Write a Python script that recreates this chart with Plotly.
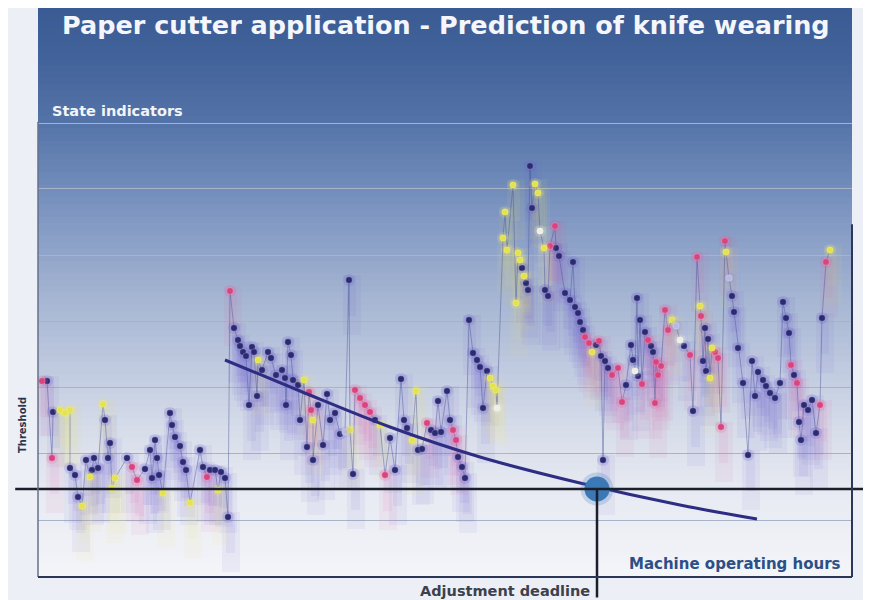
import plotly.graph_objects as go

# ---------------- data ----------------
hours = [0.4, 0.9, 1.4, 1.5, 2.2, 2.7, 3.2, 3.2, 3.7, 4.0, 4.4, 4.8, 5.2, 5.4, 5.6, 6.0, 6.5, 6.7, 7.0, 7.2,
         7.4, 7.7, 8.9, 9.4, 9.9, 10.7, 11.2, 11.4, 11.7, 11.9, 12.1, 12.5, 13.2, 13.4, 13.7, 14.2, 14.5, 14.8, 15.2, 16.2,
         16.5, 16.9, 17.2, 17.7, 18.0, 18.3, 18.7, 19.0, 19.2,
         19.6, 20.0, 20.2, 20.5, 20.8, 21.1, 21.4, 21.6, 21.9, 22.0, 22.4, 23.0, 23.3, 23.8, 24.4, 24.7, 24.8, 25.0, 25.3,
         25.5, 26.0, 26.2, 26.6, 26.9, 27.1, 27.3, 27.5, 27.5, 28.0, 28.5, 28.9, 29.2, 29.7, 30.2, 30.7, 31.1, 31.2, 31.5,
         31.7, 32.2, 32.7, 33.2, 33.7, 34.2, 34.7, 35.2, 35.7, 36.3, 36.6, 36.9, 37.4, 37.8, 38.0, 38.4, 38.9, 39.3, 39.7,
         40.0, 40.3, 40.9, 41.2, 41.5, 41.8, 42.0, 42.4, 42.7, 43.1,
         43.5, 43.9, 44.2, 44.5, 44.9, 45.2, 45.5, 45.8, 45.9, 46.5, 46.7, 46.9, 47.5, 47.8, 48.0, 48.2, 48.4, 48.6, 48.8,
         49.0, 49.2, 49.4, 49.7, 50.0, 50.2, 50.6, 50.7, 51.0, 51.2, 51.7, 51.8, 52.1, 52.7, 53.2, 53.5, 53.7, 54.0, 54.2,
         54.5, 54.7, 55.1, 55.4, 55.8, 56.1, 56.3, 56.5, 56.7, 57.0,
         57.4, 58.0, 58.4, 58.8, 59.3, 59.5, 59.7, 59.9, 60.0, 60.2, 60.4, 60.7, 61.0, 61.3, 61.5, 61.7, 61.8, 62.0, 62.3,
         62.7, 63.0, 63.4, 63.8, 64.2, 64.6, 65.2, 65.5, 65.9, 66.2, 66.3, 66.5, 66.7, 66.8, 67.0, 67.2, 67.4, 67.7, 68.0,
         68.3, 68.7, 68.8, 69.1, 69.4, 69.6, 70.0, 70.5, 71.0, 71.4, 71.7, 72.0, 72.5, 72.8, 73.2, 73.7, 74.2, 74.5, 74.8,
         75.1, 75.3, 75.6, 75.9, 76.1, 76.3, 76.6, 77.0, 77.4, 77.8, 78.2, 78.4, 78.8, 79.2, 79.5, 79.8, 80.0, 80.2, 80.5,
         80.3]
state = [19.6, 19.6, 11.9, 16.5, 16.7, 16.4, 16.7, 10.9, 10.2, 8.0, 7.1, 11.7, 10.0, 10.7, 11.9, 10.9, 17.3, 15.7, 11.9, 13.4,
         8.9, 9.9, 11.9, 11.0, 9.7, 10.8, 12.7, 9.9, 13.7, 11.9, 10.2, 8.4, 16.4, 15.2, 14.0, 13.1, 11.5, 10.7, 7.4, 12.7,
         11.0, 10.0, 10.7, 10.7, 8.7, 10.5, 9.9, 6.0, 28.6,
         24.9, 23.7, 23.1, 22.5, 22.1, 17.2, 23.0, 22.5, 18.1, 21.7, 20.7, 22.5, 21.9, 20.2, 20.7, 19.9, 17.2, 23.5, 22.2,
         19.7, 19.2, 15.7, 19.7, 13.0, 18.5, 16.7, 15.7, 11.7, 17.2, 13.2, 18.3, 15.7, 16.4, 14.3, 14.5, 29.7, 14.7, 10.3,
         18.7, 17.9, 17.2, 16.5, 15.7, 15.2, 10.2, 13.9, 10.7, 19.8, 15.7, 14.9, 13.7, 18.6, 12.7, 12.8, 15.4, 14.7, 14.4,
         17.6, 14.5, 18.6, 15.7, 14.7, 13.7, 12.0, 11.0, 9.9, 25.7,
         22.4, 21.7, 21.0, 16.9, 20.6, 19.9, 19.1, 18.7, 16.9, 33.9, 36.5, 32.7, 39.2, 27.4, 32.4, 31.7, 30.9, 30.1, 29.4,
         28.7, 41.1, 36.9, 39.3, 38.4, 34.6, 32.9, 28.7, 28.1, 33.1, 35.1, 32.9, 32.1, 28.4, 27.7, 31.5, 27.0, 26.4, 25.5,
         24.7, 24.0, 23.4, 22.5, 23.2, 23.6, 22.1, 11.7, 21.6, 20.9,
         20.2, 20.9, 17.5, 19.2, 23.2, 21.7, 20.6, 27.9, 20.1, 25.7, 19.3, 24.5, 23.7, 23.1, 22.5, 17.4, 21.5, 20.2, 21.1,
         26.7, 24.7, 25.7, 25.1, 23.7, 23.1, 22.2, 16.6, 32.0, 27.1, 26.1, 21.6, 24.9, 20.6, 23.8, 19.9, 22.9, 22.5, 21.9,
         15.0, 33.6, 32.5, 29.9, 28.1, 26.5, 22.9, 19.4, 12.2, 21.6, 18.1, 20.5, 19.7, 19.1, 18.4, 17.9, 19.4, 27.5, 25.9,
         24.4, 21.2, 20.2, 19.4, 15.5, 13.7, 17.2, 16.7, 17.7, 14.4, 17.2, 25.9, 31.5, 32.7, 33.9, 33.4, 31.5, 25.9, 28.2,
         16.9]
# indicator class of each measurement: n = navy, p = pink, y = yellow, w = white, l = pale
klass = list("pnpnyyynnnynynnnynnnyynppnnnnnnynnnnnnynnpnnynnnp"[:49]) + \
        list("nnnnnnnnnynnnnnnnnnnnnynppynnnnnnnlnynppppnypnnnnnyynnpnnnnnnpp"[:67]) + \
        list("nnnnnnnnnyyywyyyyyyynynnnnyywynnppnnnnnnnnnppyn"[:47]) + \
        list("pnnnnpppnnnwnnnpnpnnppppppyl" + "wnpnpypnnnnyyppppylnnnnnnnnnnnnnnnnpnpnnnnnnpnpy")

trend_hours = [18.7, 26.2, 35.2, 44.2, 54.2, 64.2, 71.9]
trend_state = [21.7, 18.6, 15.0, 12.0, 9.4, 7.2, 5.8]

threshold = 8.8
deadline_hours = 55.9

grid_levels = [5.7, 12.4, 19.0, 25.6, 32.2, 38.9, 45.4]

X_RANGE = [0, 81.4]
Y_RANGE = [0, 56.9]

# ---------------- styles ----------------
dot_color = {"n": "#2b2a72", "p": "#d9437e", "y": "#e4e34c", "w": "#eef0e4", "l": "#b9b9de"}
haze_rgb = {"n": (105, 95, 210), "p": (225, 95, 165), "y": (235, 232, 110), "w": (240, 240, 230),
            "l": (150, 150, 220)}


def rgba(k, a):
    r, g, b = haze_rgb[k]
    return "rgba(%d,%d,%d,%.3f)" % (r, g, b, a)


n = min(len(hours), len(state), len(klass))
hours, state, klass = hours[:n], state[:n], klass[:n]
kinds = ["n", "p", "y", "w", "l"]

fig = go.Figure()

# blurred shadow streaks below each measurement (two soft layers)
for k in kinds:
    xs = [h for h, c in zip(hours, klass) if c == k]
    ys = [s for s, c in zip(state, klass) if c == k]
    if not xs:
        continue
    fig.add_trace(go.Bar(x=[h + 0.3 for h in xs], y=[6.0] * len(xs), base=[v - 5.5 for v in ys], width=1.8,
                         marker=dict(color=rgba(k, 0.065), line=dict(width=0)),
                         hoverinfo="skip", showlegend=False))
    fig.add_trace(go.Bar(x=[h + 0.2 for h in xs], y=[4.0] * len(xs), base=[v - 3.6 for v in ys], width=0.9,
                         marker=dict(color=rgba(k, 0.08), line=dict(width=0)),
                         hoverinfo="skip", showlegend=False))

# thin connecting lines
fig.add_trace(go.Scatter(x=hours, y=state, mode="lines",
                         line=dict(color="rgba(70,80,150,0.55)", width=0.8),
                         hoverinfo="skip", showlegend=False))

# glow + dots
for k in kinds:
    xs = [h for h, c in zip(hours, klass) if c == k]
    ys = [s for s, c in zip(state, klass) if c == k]
    if not xs:
        continue
    fig.add_trace(go.Scatter(x=xs, y=ys, mode="markers",
                             marker=dict(size=12, color=rgba(k, 0.2), line=dict(width=0)),
                             hoverinfo="skip", showlegend=False))
    fig.add_trace(go.Scatter(x=xs, y=ys, mode="markers",
                             marker=dict(size=6.5, color=dot_color[k],
                                         line=dict(width=0.6, color="rgba(255,255,255,0.35)")),
                             showlegend=False))

# wear trend
fig.add_trace(go.Scatter(x=trend_hours, y=trend_state, mode="lines",
                         line=dict(color="#2e2d84", width=3, shape="spline"),
                         showlegend=False))

# deadline circle
fig.add_trace(go.Scatter(x=[deadline_hours], y=[threshold], mode="markers",
                         marker=dict(size=33, color="rgba(60,120,185,0.22)", line=dict(width=0)),
                         showlegend=False, hoverinfo="skip"))
fig.add_trace(go.Scatter(x=[deadline_hours], y=[threshold], mode="markers",
                         marker=dict(size=25, color="#3b78b6", line=dict(width=0)),
                         showlegend=False))

# ---------------- background gradient ----------------
stops = [(1.00, (58, 90, 147)), (0.90, (68, 100, 156)), (0.80, (84, 115, 168)),
         (0.66, (120, 146, 191)), (0.52, (158, 175, 207)), (0.38, (189, 200, 222)),
         (0.26, (214, 220, 233)), (0.15, (231, 234, 242)), (0.0, (244, 245, 249))]


def col_at(t):
    for (t1, c1), (t0, c0) in zip(stops[:-1], stops[1:]):
        if t0 <= t <= t1:
            f = (t - t0) / (t1 - t0)
            return "rgb(%d,%d,%d)" % tuple(round(a0 + (a1 - a0) * f) for a0, a1 in zip(c0, c1))
    return "rgb(244,245,249)"


shapes = []
N = 90
for i in range(N):
    y0, y1 = i / N, (i + 1) / N
    shapes.append(dict(type="rect", xref="paper", yref="paper", x0=0, x1=1, y0=y0, y1=y1 + 0.002,
                       fillcolor=col_at((y0 + y1) / 2), line=dict(width=0), layer="below"))

thr_paper = (threshold - Y_RANGE[0]) / (Y_RANGE[1] - Y_RANGE[0])
shapes += [
    # threshold line (extends beyond the panel)
    dict(type="line", xref="paper", yref="y", x0=-0.028, x1=1.03, y0=threshold, y1=threshold,
         line=dict(color="#1b1e2b", width=2.5), layer="above"),
    # adjustment deadline
    dict(type="line", xref="x", yref="paper", x0=deadline_hours, x1=deadline_hours, y0=-0.036, y1=thr_paper,
         line=dict(color="#1b1e2b", width=2.5), layer="above"),
    # panel borders
    dict(type="line", xref="paper", yref="paper", x0=0, x1=0, y0=0, y1=0.8,
         line=dict(color="#66718a", width=1.5), layer="above"),
    dict(type="line", xref="paper", yref="paper", x0=1, x1=1, y0=0, y1=0.62,
         line=dict(color="#2d3858", width=2), layer="above"),
    dict(type="line", xref="paper", yref="paper", x0=0, x1=1, y0=0, y1=0,
         line=dict(color="#2d3858", width=2), layer="above"),
]

annotations = [
    dict(text="<b>Paper cutter application - Prediction of knife wearing</b>", xref="paper", yref="paper",
         x=0.501, y=0.970, xanchor="center", yanchor="middle", showarrow=False,
         font=dict(family="DejaVu Sans", size=25.5, color="#f4f6fb")),
    dict(text="<b>State indicators</b>", xref="paper", yref="paper", x=0.0147, y=0.819,
         xanchor="left", yanchor="middle",
         showarrow=False, font=dict(family="DejaVu Sans", size=14.5, color="#f2f4f8")),
    dict(text="<b>Threshold</b>", xref="paper", yref="paper", x=-0.0197, y=0.267, textangle=-90,
         xanchor="center", yanchor="middle",
         showarrow=False, font=dict(family="DejaVu Sans", size=10, color="#2a3550")),
    dict(text="<b>Machine operating hours</b>", xref="paper", yref="paper", x=0.989, y=0.0228,
         xanchor="right", yanchor="middle", showarrow=False,
         font=dict(family="DejaVu Sans", size=15, color="#2c4f86")),
    dict(text="<b>Adjustment deadline</b>", xref="paper", yref="paper", x=0.681, y=-0.0246,
         xanchor="right", yanchor="middle", showarrow=False,
         font=dict(family="DejaVu Sans", size=14.5, color="#3c414c")),
]

fig.update_layout(
    width=863, height=592,
    margin=dict(l=30, r=19, t=0, b=23),
    paper_bgcolor="#eceff5", plot_bgcolor="rgba(0,0,0,0)",
    barmode="overlay", bargap=0,
    shapes=shapes, annotations=annotations,
    xaxis=dict(range=X_RANGE, showgrid=False, zeroline=False, showticklabels=False, ticks=""),
    yaxis=dict(range=Y_RANGE, tickvals=grid_levels, showgrid=True, gridcolor="#a9b3c8", gridwidth=1,
               zeroline=False, showticklabels=False, ticks=""),
    showlegend=False,
)

fig.write_html("out.html")
